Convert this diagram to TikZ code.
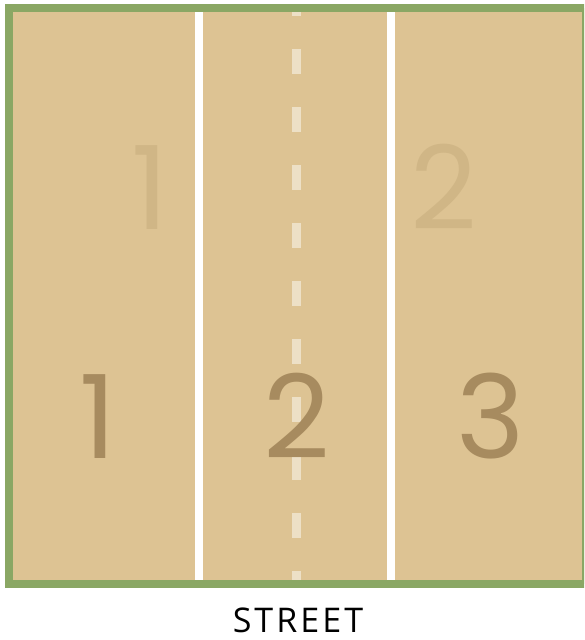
\documentclass[tikz,border=0pt]{standalone}
\usepackage{fontspec}
\setmainfont{Open Sans}
\newfontfamily\numfont{Poppins}
\definecolor{lotfill}{HTML}{DDC393}
\definecolor{lotgreen}{HTML}{8AA764}
\definecolor{numdark}{HTML}{A78B5F}
\definecolor{numlight}{HTML}{D0B686}
\definecolor{dashcol}{HTML}{EDE0C6}
\tikzset{
  bignum/.style={inner sep=0pt, anchor=base, font=\numfont\fontsize{116}{116}\selectfont},
  darknum/.style={bignum, text=numdark},
  lightnum/.style={bignum, text=numlight},
  divider/.style={draw=white, line width=8.5pt},
  centerdash/.style={draw=dashcol, line width=8.5pt, dash pattern=on 25pt off 33pt, dash phase=16.7pt}
}
\begin{document}
\begin{tikzpicture}[x=1pt,y=-1pt]
\useasboundingbox (0,0) rectangle (584,640);
\fill[white] (0,0) rectangle (584,640);
\begin{scope}
\clip (0,0) rectangle (584,640);
\fill[lotfill] (9,8) rectangle (586,584);
\draw[divider] (199,12) -- (199,580);
\draw[divider] (391,12) -- (391,580);
\draw[centerdash] (296.5,8) -- (296.5,580);
\node[lightnum] (l1) at (150,229) {1};
\node[lightnum] (l2) at (443.5,229) {2};
\node[darknum] (n1) at (98,458) {1};
\node[darknum] (n2) at (297,458) {2};
\node[darknum] (n3) at (491,458) {3};
\draw[lotgreen, line width=8pt] (9,8) rectangle (586,584);
\end{scope}
\node[inner sep=0pt, anchor=base, font=\addfontfeature{LetterSpace=9}\fontsize{34}{34}\selectfont] (street) at (298,632.7) {STREET};
\end{tikzpicture}
\end{document}
